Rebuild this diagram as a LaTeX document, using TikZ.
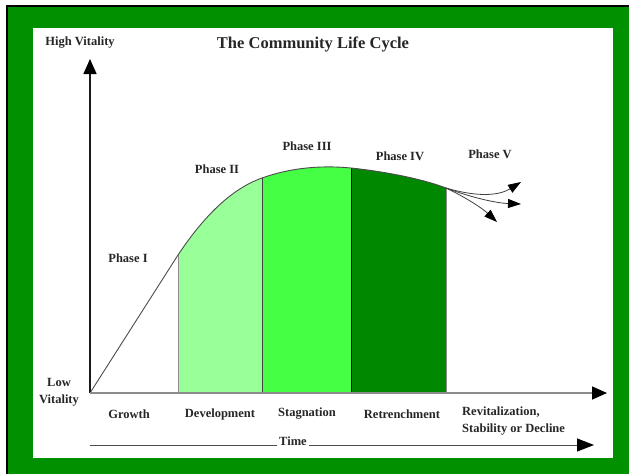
\documentclass[tikz,border=0pt]{standalone}
\usepackage{fontspec}
\setmainfont{Liberation Serif}
\usetikzlibrary{arrows.meta}
\definecolor{frame_green}{RGB}{0,144,0}
\definecolor{dev_green}{RGB}{153,255,153}
\definecolor{stag_green}{RGB}{68,255,68}
\definecolor{retr_green}{RGB}{0,136,0}
\begin{document}
\begin{tikzpicture}[x=1pt, y=-1pt, font=\fontsize{12.5}{17}\selectfont\bfseries]
\tikzstyle{label_style} = [inner sep=0pt, text=black!85]
\tikzstyle{axis_style} = [line width=1.6, -{Triangle[length=15pt, width=13pt, black]}]
\tikzstyle{curve_style} = [draw=black!70, line width=0.9]
\tikzstyle{split_style} = [draw=black!75, line width=0.8]
\tikzstyle{branch_style} = [draw=black!75, line width=0.8, -{Triangle[length=13pt, width=9pt, black]}]

% frame
\useasboundingbox (0,0) rectangle (629,474);
\fill[black] (6,5) rectangle (629,474);
\fill[frame_green] (8,7) rectangle (629,474);
\fill[white] (33,28) rectangle (613,458);

% points on the curve
\coordinate (O) at (90,393);
\coordinate (c1) at (178,255);
\coordinate (c2) at (262,178);
\coordinate (c3) at (351,168);
\coordinate (c4) at (446,188);

% coloured phases under the curve
\begin{scope}
\clip (c1) .. controls (200,222) and (228,190) .. (c2)
  .. controls (290,168) and (320,165) .. (c3)
  .. controls (380,171) and (420,178) .. (c4) -- (446,393) -- (178,393) -- cycle;
\fill[dev_green] (178,150) rectangle (262,393);
\fill[stag_green] (262,150) rectangle (351,393);
\fill[retr_green] (351,150) rectangle (446,393);
\end{scope}
\draw[split_style, draw=black!45] (178,255) -- (178,393);
\draw[split_style] (262,178) -- (262,393);
\draw[split_style, draw=black] (351,168) -- (351,393);
\draw[split_style, draw=black!45] (446,188) -- (446,393);

\draw[curve_style] (O) -- (c1) .. controls (200,222) and (228,190) .. (c2)
  .. controls (290,168) and (320,165) .. (c3)
  .. controls (380,171) and (420,178) .. (c4);

% phase V branches
\coordinate (v1) at (521,182);
\coordinate (v2) at (521,204);
\coordinate (v3) at (497,222);
\draw[branch_style] (c4) .. controls (480,198) and (500,195) .. (v1);
\draw[branch_style] (c4) .. controls (470,197) and (495,203) .. (v2);
\draw[branch_style] (c4) .. controls (465,197) and (482,208) .. (v3);

% axes
\coordinate (ytip) at (90,59);
\coordinate (xtip) at (607,393);
\draw[axis_style, draw=black!90] (O) -- (ytip);
\draw[axis_style, draw=black!45] (O) -- (xtip);

% time arrow
\coordinate (tstart) at (90,445);
\coordinate (tend) at (594,445);
\node[label_style] (time) at (293,441) {Time};
\draw[line width=1, black!70] (tstart) -- ([xshift=-2pt]time.south west |- tstart);
\draw[line width=1, black!70, -{Triangle[length=17pt, width=13pt, black]}] ([xshift=2pt]time.south east |- tstart) -- (tend);

% labels
\node[label_style] (title) at (313,44) {\fontsize{16.5}{18}\selectfont The Community Life Cycle};
\node[label_style] (high) at (80,43) {High Vitality};
\node[label_style, align=center] (low) at (59,392) {Low\\Vitality};
\node[label_style] (p1) at (128,258) {Phase I};
\node[label_style] (p2) at (217,169) {Phase II};
\node[label_style] (p3) at (307,146) {Phase III};
\node[label_style] (p4) at (400,156) {Phase IV};
\node[label_style] (p5) at (490,154) {Phase V};
\node[label_style] (growth) at (129,414) {Growth};
\node[label_style] (dev) at (220,414) {Development};
\node[label_style] (stag) at (307,414) {Stagnation};
\node[label_style] (retr) at (402,414) {Retrenchment};
\node[label_style, align=left, anchor=north west] (revit) at (462,407) {Revitalization,\\Stability or Decline};
\end{tikzpicture}
\end{document}
